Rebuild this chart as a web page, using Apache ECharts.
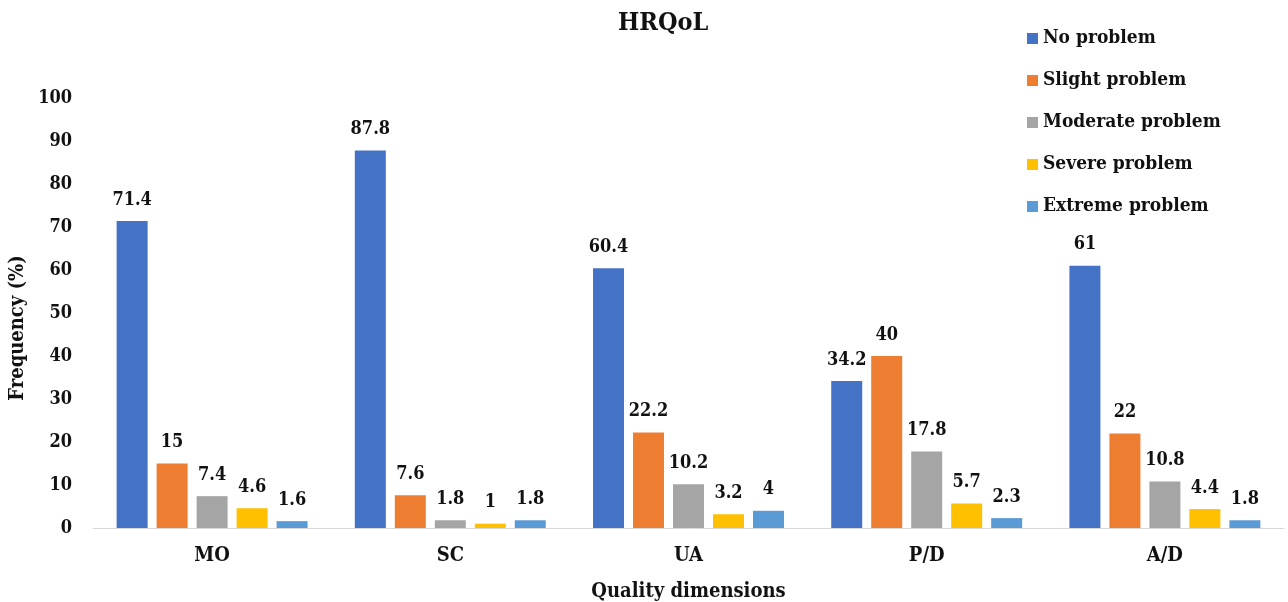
<!DOCTYPE html>
<html><head><meta charset="utf-8">
<script src="https://cdn.jsdelivr.net/npm/echarts@6/dist/echarts.min.js"></script>
<style>html,body{margin:0;padding:0;background:#fff}#c{width:1288px;height:602px}</style>
</head><body><div id="c"></div>
<script>
const categories = ['MO', 'SC', 'UA', 'P/D', 'A/D'];
const seriesNames = ['No problem', 'Slight problem', 'Moderate problem', 'Severe problem', 'Extreme problem'];
const noProblem = [71.4, 87.8, 60.4, 34.2, 61];
const slightProblem = [15, 7.6, 22.2, 40, 22];
const moderateProblem = [7.4, 1.8, 10.2, 17.8, 10.8];
const severeProblem = [4.6, 1, 3.2, 5.7, 4.4];
const extremeProblem = [1.6, 1.8, 4, 2.3, 1.8];
const colors = ['#4472C4', '#ED7D31', '#A5A5A5', '#FFC000', '#5B9BD5'];
const FONT = '"DejaVu Serif Condensed", "DejaVu Serif", serif';
const values = [noProblem, slightProblem, moderateProblem, severeProblem, extremeProblem];
const chart = echarts.init(document.getElementById('c'));
chart.setOption({
  animation: false,
  textStyle: {fontFamily: FONT},
  title: {text: 'HRQoL', left: 613, top: 6, textStyle: {fontFamily: FONT, fontSize: 25, fontWeight: 'bold', color: '#111'}},
  legend: {orient: 'vertical', left: 1022, top: 24, itemWidth: 11, itemHeight: 11, itemGap: 23, icon: 'rect',
    textStyle: {fontFamily: FONT, fontSize: 19, fontWeight: 'bold', color: '#111'}, data: seriesNames},
  grid: {left: 93, right: 4, top: 98, bottom: 74, outerBoundsMode: 'none', containLabel: false},
  xAxis: {type: 'category', data: categories, axisTick: {show: false},
    axisLine: {lineStyle: {color: '#d9d9d9', width: 1}},
    axisLabel: {fontFamily: FONT, fontSize: 20, fontWeight: 'bold', color: '#111', margin: 18},
    name: 'Quality dimensions', nameLocation: 'middle', nameGap: 54,
    nameTextStyle: {fontFamily: FONT, fontSize: 20, fontWeight: 'bold', color: '#111'}},
  yAxis: {type: 'value', min: 0, max: 100, interval: 10, splitLine: {show: false}, axisLine: {show: false}, axisTick: {show: false},
    axisLabel: {fontFamily: FONT, fontSize: 18, fontWeight: 'bold', color: '#111', margin: 21},
    name: 'Frequency (%)', nameLocation: 'middle', nameGap: 60,
    nameTextStyle: {fontFamily: FONT, fontSize: 20, fontWeight: 'bold', color: '#111', padding: [0, 30, 0, 0]}},
  series: seriesNames.map((n, i) => ({
    name: n, type: 'bar', data: values[i], barWidth: 31, barGap: '29%',
    itemStyle: {color: colors[i]},
    label: {show: true, position: 'top', distance: 12, fontFamily: FONT, fontSize: 18, fontWeight: 'bold', color: '#111'}
  }))
});
</script></body></html>
